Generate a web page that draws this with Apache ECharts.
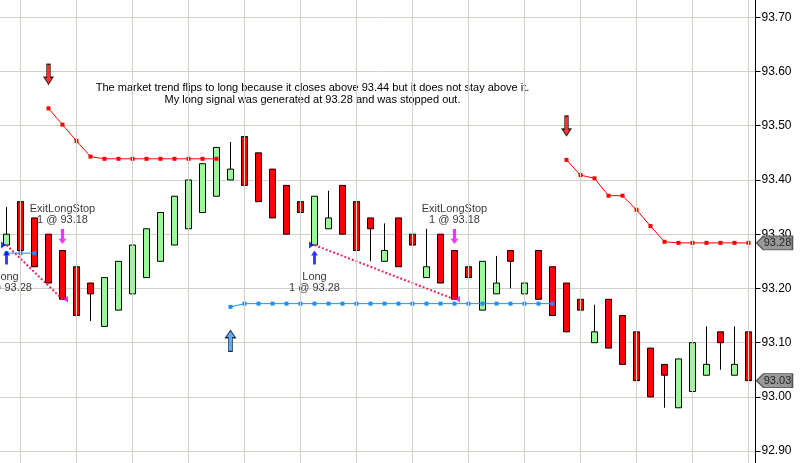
<!DOCTYPE html>
<html><head><meta charset="utf-8">
<script src="https://cdn.jsdelivr.net/npm/echarts@6/dist/echarts.min.js"></script>
<style>html,body{margin:0;padding:0;background:#fff}#c{width:802px;height:463px}</style>
</head><body><div id="c"></div>
<script>
// ---- data ----
const bars = [1,2,3,4,5,6,7,8,9,10,11,12,13,14,15,16,17,18,19,20,21,22,23,24,25,26,27,28,29,30,31,32,33,34,35,36,37,38,39,40,41,42,43,44,45,46,47,48,49,50,51,52,53,54];
const openP  = [93.28,93.36,93.33,93.30,93.27,93.24,93.21,93.13,93.16,93.19,93.22,93.25,93.28,93.31,93.34,93.37,93.40,93.48,93.45,93.42,93.39,93.36,93.28,93.31,93.39,93.36,93.33,93.25,93.33,93.30,93.22,93.30,93.27,93.24,93.16,93.19,93.27,93.19,93.27,93.24,93.21,93.18,93.10,93.18,93.15,93.12,93.09,93.06,92.98,93.01,93.04,93.12,93.04,93.12];
const closeP = [93.30,93.27,93.24,93.21,93.18,93.15,93.19,93.22,93.25,93.28,93.31,93.34,93.37,93.40,93.43,93.46,93.42,93.39,93.36,93.33,93.30,93.34,93.37,93.33,93.30,93.27,93.31,93.27,93.24,93.28,93.24,93.21,93.18,93.22,93.25,93.21,93.25,93.21,93.18,93.15,93.12,93.16,93.12,93.09,93.06,93.03,93.00,93.04,93.07,93.10,93.06,93.10,93.06,93.03];
const lowP   = [93.28,93.27,93.24,93.21,93.18,93.15,93.14,93.13,93.16,93.19,93.22,93.25,93.28,93.31,93.34,93.37,93.40,93.39,93.36,93.33,93.30,93.28,93.28,93.31,93.30,93.27,93.25,93.25,93.24,93.22,93.22,93.21,93.18,93.15,93.16,93.19,93.20,93.19,93.18,93.15,93.12,93.11,93.10,93.09,93.06,93.03,93.00,92.98,92.98,93.01,93.04,93.05,93.04,93.03];
const highP  = [93.35,93.36,93.33,93.30,93.27,93.24,93.21,93.22,93.25,93.28,93.31,93.34,93.37,93.40,93.43,93.46,93.47,93.48,93.45,93.42,93.39,93.36,93.37,93.38,93.39,93.36,93.33,93.32,93.33,93.30,93.31,93.30,93.27,93.24,93.25,93.26,93.27,93.28,93.27,93.24,93.21,93.18,93.17,93.18,93.15,93.12,93.09,93.06,93.07,93.10,93.13,93.12,93.13,93.12];
const shortStop = [null,null,null,93.532,93.502,93.472,93.443,93.439,93.439,93.439,93.439,93.439,93.439,93.439,93.439,93.439,
  null,null,null,null,null,null,null,null,null,null,null,null,null,null,null,null,null,null,null,null,null,null,null,null,
  93.437,93.409,93.403,93.371,93.371,93.345,93.315,93.286,93.284,93.284,93.284,93.284,93.284,93.284];
const longStop = [93.265,93.265,93.265,null,null,null,null,null,null,null,null,null,null,null,null,null,
  93.166,93.172,93.172,93.172,93.172,93.172,93.172,93.172,93.172,93.172,93.172,93.172,93.172,93.172,93.172,93.172,93.172,93.172,93.172,93.172,93.172,93.172,93.172,93.172,
  null,null,null,null,null,null,null,null,null,null,null,null,null,null];
const entryBar = [0, 22];
const entryPrice = [93.28, 93.28];
const exitBar = [4, 32];
const exitPrice = [93.18, 93.18];
const tradeQty = [1, 1];
const entryName = 'Long';
const exitName = 'ExitLongStop';
const shortSignalBar = [3, 40];
const longSignalBar = [16];
const gridBars = [1,5,9,13,17,21,25,29,33,37,41,45,49,53];
const noteLines = ['The market trend flips to long because it closes above 93.44 but it does not stay above it.',
                   'My long signal was generated at 93.28 and was stopped out.'];

// ---- chart ----
const FONT = '"Liberation Sans", Arial, sans-serif';
const upArrow = 'path://M5,0 L10,7 L7,7 L7,20 L3,20 L3,7 L0,7 Z';
const downArrow = 'path://M3,0 L7,0 L7,13 L10,13 L5,20 L0,13 L3,13 Z';
const tagPath = 'path://M0,7 L7,0 L36,0 L36,14 L7,14 Z';
const last = bars.length - 1;

const chart = echarts.init(document.getElementById('c'));
const series = [];

series.push({
  type: 'line', data: [], silent: true, z: 0,
  markLine: {
    silent: true, symbol: ['none', 'none'], label: {show: false}, animation: false,
    lineStyle: {color: '#d4d0c8', width: 1, type: 'solid'},
    emphasis: {disabled: true},
    data: gridBars.map(b => ({xAxis: b}))
  }
});

// trade labels (under candles)
const txtData = [];
entryBar.forEach((b, i) => txtData.push({value: [b, entryPrice[i]], label: {offset: [0, 37.5], formatter: entryName + '\n' + tradeQty[i] + ' @ ' + entryPrice[i].toFixed(2)}}));
exitBar.forEach((b, i) => txtData.push({value: [b, highP[b]], label: {offset: [0, -36], formatter: exitName + '\n' + tradeQty[i] + ' @ ' + exitPrice[i].toFixed(2)}}));
series.push({
  type: 'scatter', z: 1, silent: true, clip: false, symbol: 'circle', symbolSize: 1,
  itemStyle: {color: 'rgba(0,0,0,0)'},
  label: {show: true, position: 'inside', color: '#000', textBorderWidth: 0, fontSize: 11, fontFamily: FONT, lineHeight: 11.5, align: 'center'},
  data: txtData
});

series.push({
  type: 'candlestick', z: 2, silent: true, barWidth: 7,
  itemStyle: {color: '#98fb98', color0: '#ff0000', borderColor: '#000', borderColor0: '#000', borderWidth: 1},
  data: bars.map((_, i) => [openP[i], closeP[i], lowP[i], highP[i]])
});

series.push({
  type: 'line', z: 3, silent: true, data: shortStop, connectNulls: false,
  symbol: 'rect', symbolSize: 4, showAllSymbol: true,
  lineStyle: {color: '#ff0000', width: 1}, itemStyle: {color: '#ff0000'}
});
series.push({
  type: 'line', z: 3, silent: true, data: longStop, connectNulls: false,
  symbol: 'rect', symbolSize: 4, showAllSymbol: true,
  lineStyle: {color: '#1e90ff', width: 1}, itemStyle: {color: '#1e90ff'}
});

entryBar.forEach((b, i) => {
  series.push({
    type: 'line', z: 4, silent: true, symbol: 'none',
    lineStyle: {color: '#e8265e', width: 2, type: [2, 2]},
    data: [[b, entryPrice[i]], [exitBar[i], exitPrice[i]]]
  });
});

// markers
series.push({
  type: 'scatter', z: 5, silent: true, clip: false, symbol: 'triangle', symbolSize: [7, 5], symbolRotate: -90, symbolOffset: [-3, 0],
  itemStyle: {color: '#0000ff'},
  data: entryBar.map((b, i) => [b, entryPrice[i]])
});
series.push({
  type: 'scatter', z: 5, silent: true, clip: false, symbol: 'triangle', symbolSize: [7, 5], symbolRotate: 90, symbolOffset: [3, 0],
  itemStyle: {color: '#ff00ff'},
  data: exitBar.map((b, i) => [b, exitPrice[i]])
});
series.push({
  type: 'scatter', z: 5, silent: true, clip: false, symbol: upArrow, symbolSize: [7, 14], symbolOffset: [0, 12.5],
  itemStyle: {color: '#0000ff'},
  data: entryBar.map((b, i) => [b, entryPrice[i]])
});
series.push({
  type: 'scatter', z: 5, silent: true, clip: false, symbol: downArrow, symbolSize: [8, 15], symbolOffset: [0, -14],
  itemStyle: {color: '#ff00ff'},
  data: exitBar.map(b => [b, highP[b]])
});
series.push({
  type: 'scatter', z: 5, silent: true, clip: false, symbol: downArrow, symbolSize: [9, 20], symbolOffset: [0, -34],
  itemStyle: {color: '#ff0000', borderColor: '#000', borderWidth: 1},
  data: shortSignalBar.map(b => [b, shortStop[b]])
});
series.push({
  type: 'scatter', z: 5, silent: true, clip: false, symbol: upArrow, symbolSize: [10, 21], symbolOffset: [0, 34],
  itemStyle: {color: '#3399ff', borderColor: '#000', borderWidth: 1},
  data: longSignalBar.map(b => [b, longStop[b]])
});

// price tags on the axis
series.push({
  type: 'scatter', z: 6, silent: true, clip: false, symbol: tagPath, symbolSize: [36, 14], symbolOffset: [26, 0],
  itemStyle: {color: '#808080', borderColor: '#333', borderWidth: 1},
  label: {show: true, position: 'inside', offset: [3, 0], color: '#000', textBorderWidth: 0, fontSize: 11, fontFamily: FONT,
          formatter: p => p.value[1].toFixed(2)},
  data: [[last, shortStop[last]], [last, closeP[last]]]
});

chart.setOption({
  animation: false,
  backgroundColor: '#ffffff',
  grid: {left: -0.5, top: -37, width: 756, height: 542.4, containLabel: false, outerBoundsMode: 'none'},
  xAxis: {type: 'category', data: bars, boundaryGap: true,
    axisLine: {show: false}, axisTick: {show: false}, axisLabel: {show: false}, splitLine: {show: false}},
  yAxis: {type: 'value', position: 'right', min: 92.8, max: 93.8, interval: 0.1,
    axisLine: {show: true, lineStyle: {color: '#000', width: 1}},
    axisTick: {show: true, length: 5, lineStyle: {color: '#000'}},
    axisLabel: {margin: 6, color: '#000', fontSize: 12, fontFamily: FONT, formatter: v => v.toFixed(2)},
    splitLine: {show: true, lineStyle: {color: '#d4d0c8', width: 1}}},
  graphic: noteLines.map((t, i) => ({
    type: 'text', x: 312.5, y: 88 + i * 12, silent: true,
    style: {text: t, font: '11px ' + FONT, fill: '#000', textAlign: 'center', textVerticalAlign: 'middle'}
  })),
  series: series
});
</script>
</body></html>
